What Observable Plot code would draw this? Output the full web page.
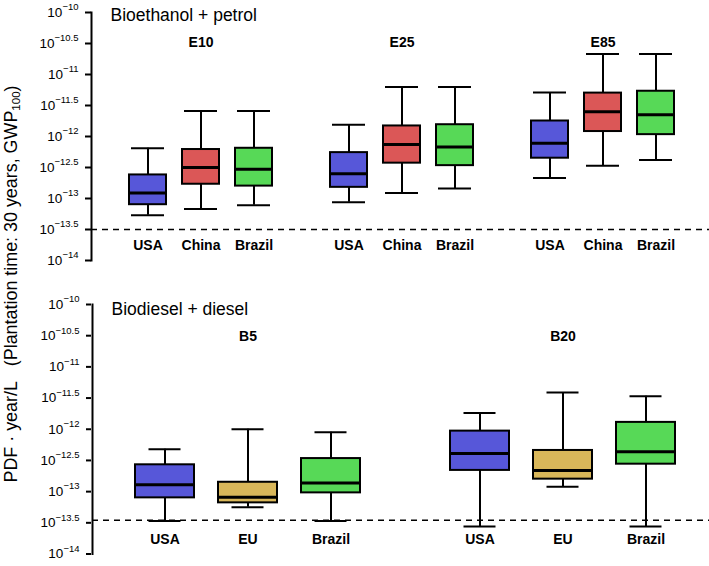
<!DOCTYPE html>
<html>
<head>
<meta charset="utf-8">
<script src="https://cdn.jsdelivr.net/npm/d3@7"></script>
<script src="https://cdn.jsdelivr.net/npm/@observablehq/plot@0.6"></script>
<style>
  html, body { margin: 0; padding: 0; background: #fff; overflow: hidden; }
  #chart { position: relative; width: 709px; height: 566px; font-family: "Liberation Sans", Arial, sans-serif; }
  #top { position: absolute; left: 0; top: 0; }
  #bottom { position: absolute; left: 0; top: 280px; }
  #ylabel { position: absolute; left: 11px; top: 284px; transform: translate(-50%, -50%) rotate(-90deg);
            white-space: nowrap; font-size: 17.9px; color: #000; }
  #ylabel sub { font-size: 11.5px; vertical-align: -3px; line-height: 0; }
</style>
</head>
<body>
<div id="chart">
  <div id="top"></div>
  <div id="bottom"></div>
  <div id="ylabel">PDF · year/L&nbsp;&nbsp;&nbsp;(Plantation time: 30 years, GWP<sub>100</sub>)</div>
</div>
<script>
// ---- data (log10 values: [whisker low, Q1, median, Q3, whisker high]) ----
const topTitle = "Bioethanol + petrol";
const bottomTitle = "Biodiesel + diesel";
const ethGroups = ["E10", "E25", "E85"];
const ethCountries = ["USA", "China", "Brazil"];
const e10Stats = [[-13.27, -13.10, -12.91, -12.62, -12.19], [-13.17, -12.77, -12.50, -12.21, -11.59], [-13.11, -12.80, -12.53, -12.19, -11.59]];
const e25Stats = [[-13.06, -12.82, -12.60, -12.26, -11.81], [-12.91, -12.43, -12.13, -11.83, -11.20], [-12.84, -12.47, -12.17, -11.81, -11.20]];
const e85Stats = [[-12.67, -12.35, -12.11, -11.75, -11.29], [-12.47, -11.92, -11.60, -11.30, -10.67], [-12.38, -11.97, -11.65, -11.27, -10.67]];
const dieGroups = ["B5", "B20"];
const dieCountries = ["USA", "EU", "Brazil"];
const b5Stats  = [[-13.47, -13.10, -12.89, -12.57, -12.32], [-13.25, -13.18, -13.09, -12.85, -12.00], [-13.47, -13.02, -12.86, -12.47, -12.05]];
const b20Stats = [[-13.56, -12.66, -12.39, -12.03, -11.74], [-12.92, -12.80, -12.66, -12.34, -11.41], [-13.56, -12.56, -12.36, -11.89, -11.47]];
const topThreshold = -13.5;
const bottomThreshold = -13.46;
const tickExponents = [-10, -10.5, -11, -11.5, -12, -12.5, -13, -13.5, -14];
const countryColors = { USA: "#5757d9", China: "#db5757", Brazil: "#57d957", EU: "#d9b75a" };

// ---- build tables ----
function table(groups, countries, statsList) {
  const rows = [];
  groups.forEach((g, gi) => countries.forEach((c, ci) => {
    const s = statsList[gi][ci].map(e => 10 ** e);
    rows.push({ group: g, country: c, lo: s[0], q1: s[1], med: s[2], q3: s[3], hi: s[4] });
  }));
  return rows;
}
const topRows = table(ethGroups, ethCountries, [e10Stats, e25Stats, e85Stats]);
const bottomRows = table(dieGroups, dieCountries, [b5Stats, b20Stats]);

const font = "'Liberation Sans', Arial, sans-serif";

function panel({rows, groups, countries, title, threshold, height, marginTop, marginBottom, marginRight,
                fxPad, xPad, capInset, titleDy, groupDy, labelDy, extendRight, facetWidth}) {
  const first = groups[0];
  const mid = countries[1];
  const ticks = tickExponents.map(e => ({ g: first, v: 10 ** e, label: "10|" + e }));
  return Plot.plot({
    width: 709, height, marginLeft: 91, marginRight, marginTop, marginBottom,
    style: { fontFamily: font, background: "white", color: "black", overflow: "visible" },
    fx: { domain: groups, axis: null, paddingInner: fxPad, paddingOuter: 0 },
    x: { domain: countries, axis: null, paddingInner: xPad.inner, paddingOuter: xPad.outer, align: xPad.align },
    y: { type: "log", domain: [1e-14, 1e-10], axis: null },
    color: { domain: Object.keys(countryColors), range: Object.values(countryColors) },
    marks: [
      // y axis: line, tick marks and labels (left facet only)
      Plot.frame({ anchor: "left", facetAnchor: "left", stroke: "black", strokeWidth: 2 }),
      Plot.ruleY(ticks, { fx: "g", y: "v", stroke: "black", strokeWidth: 2, insetLeft: -6, insetRight: facetWidth }),
      Plot.text(ticks, { fx: "g", y: "v", text: "label", frameAnchor: "left", dx: -13, textAnchor: "end",
                         lineAnchor: "middle", fontSize: 13.5, fill: "black" }),
      Plot.ruleY([{ g: first, y: 10 ** threshold }], { fx: "g", y: "y", stroke: "black", strokeWidth: 1.6,
                   strokeDasharray: "6,5", insetRight: -extendRight }),
      Plot.ruleX(rows, { fx: "group", x: "country", y1: "lo", y2: "hi", stroke: "black", strokeWidth: 2 }),
      Plot.tickY(rows, { fx: "group", x: "country", y: "lo", stroke: "black", strokeWidth: 2, inset: capInset }),
      Plot.tickY(rows, { fx: "group", x: "country", y: "hi", stroke: "black", strokeWidth: 2, inset: capInset }),
      Plot.barY(rows, { fx: "group", x: "country", y1: "q1", y2: "q3", fill: "country", stroke: "black", strokeWidth: 2 }),
      Plot.tickY(rows, { fx: "group", x: "country", y: "med", stroke: "black", strokeWidth: 3 }),
      Plot.text(rows, { fx: "group", x: "country", text: "country", frameAnchor: "bottom", dy: labelDy,
                        lineAnchor: "middle", fontSize: 14, fontWeight: "bold", fill: "black" }),
      Plot.text(groups, { fx: d => d, x: () => mid, text: d => d, frameAnchor: "top", dy: groupDy,
                          lineAnchor: "middle", fontSize: 14, fontWeight: "bold", fill: "black" }),
      Plot.text([first], { fx: d => d, text: () => title, frameAnchor: "top-left", dx: 19, dy: titleDy,
                           lineAnchor: "middle", textAnchor: "start", fontSize: 17.5, fill: "black" })
    ]
  });
}

function superscripts(svg) {
  d3.select(svg).selectAll("text").each(function () {
    const t = d3.select(this);
    const s = t.text();
    const m = /^10\|(.+)$/.exec(s);
    if (!m) return;
    t.text(null);
    t.append("tspan").text("10");
    t.append("tspan").attr("dy", "-6.5").attr("font-size", "9.5").text(m[1].replace("-", "\u2212"));
  });
  return svg;
}

const topSvg = panel({
  rows: topRows, groups: ethGroups, countries: ethCountries, title: topTitle, threshold: topThreshold,
  height: 280, marginTop: 12, marginBottom: 20, marginRight: 15, fxPad: 0,
  xPad: { inner: 0.302, outer: 0.547, align: 0.647 }, capInset: 2,
  titleDy: 2.4, groupDy: 30, labelDy: -14.5, extendRight: 417, facetWidth: 201
});
const bottomSvg = panel({
  rows: bottomRows, groups: dieGroups, countries: dieCountries, title: bottomTitle, threshold: bottomThreshold,
  height: 286, marginTop: 24, marginBottom: 12.5, marginRight: 2, fxPad: 0.0506,
  xPad: { inner: 0.2934, outer: 0.443, align: 0.574 }, capInset: 13.5,
  titleDy: 4.7, groupDy: 32, labelDy: -14.7, extendRight: 318, facetWidth: 300
});
document.getElementById("top").appendChild(superscripts(topSvg));
document.getElementById("bottom").appendChild(superscripts(bottomSvg));
</script>
</body>
</html>
